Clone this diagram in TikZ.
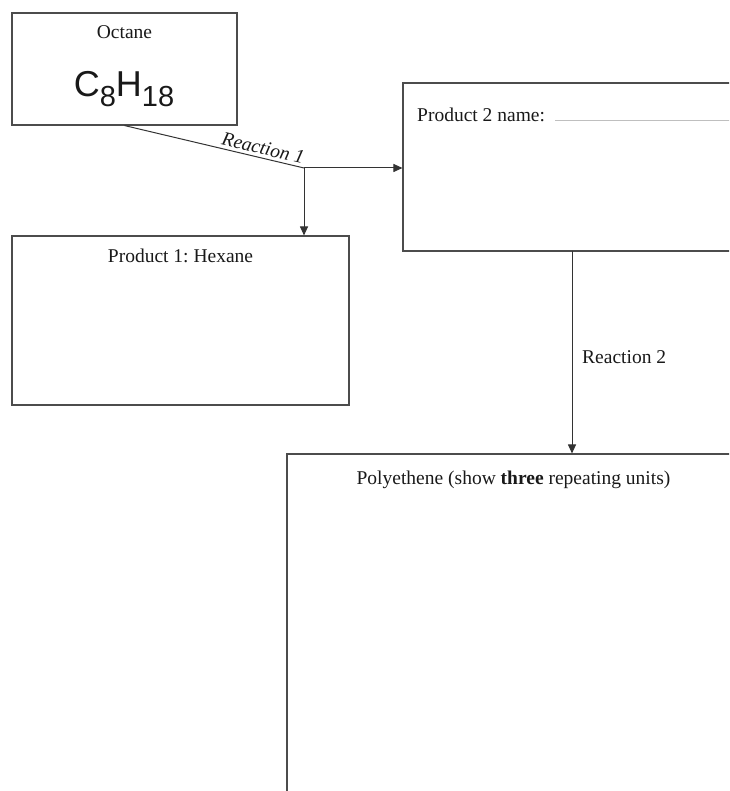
\documentclass[tikz,border=0pt]{standalone}
\usepackage{fontspec}
\setmainfont{Liberation Serif}
\newfontfamily\arialfont{Liberation Sans}
\usetikzlibrary{arrows.meta}
\frenchspacing
\begin{document}
\begin{tikzpicture}[x=1pt,y=-1pt,
  boxstyle/.style={draw=black!70, line width=1.1pt, rectangle, inner sep=0pt},
  conn/.style={draw=black!80, line width=1pt},
  arr/.style={conn, -{Triangle[length=9pt,width=8pt]}},
  lbl/.style={font=\fontsize{19.5}{22}\selectfont, inner sep=0pt, text=black!90}]
\useasboundingbox (0,0) rectangle (729,791);
\clip (0,0) rectangle (729,791);
% boxes
\node[boxstyle, minimum width=225pt, minimum height=112pt] (oct) at (124.5,69) {};
\node[boxstyle, minimum width=337pt, minimum height=169pt] (p1) at (180.5,320.5) {};
\node[boxstyle, minimum width=357pt, minimum height=168pt] (p2) at (581.5,167) {};
\node[boxstyle, minimum width=454pt, minimum height=376pt] (poly) at (514,642) {};
% texts
\node[lbl, anchor=base] (octlbl) at (124.5,39) {Octane};
\node[inner sep=0pt, anchor=base, font=\arialfont, text=black!90] (form) at (124,97)
  {\fontsize{36}{40}\selectfont C\raisebox{-10pt}{\fontsize{29}{30}\selectfont 8}H\raisebox{-10pt}{\fontsize{29}{30}\selectfont 18}};
\node[lbl, anchor=base] (p1lbl) at (180.5,262) {Product 1: Hexane};
\node[lbl, anchor=base west] (p2lbl) at (417,122) {Product 2 name:};
\draw[draw=black!25, line width=0.8pt] (555,120) -- (740,120);
\node[lbl, anchor=base] (polylbl) at (513.5,484) {Polyethene (show \textbf{three} repeating units)};
% connectors
\coordinate (j) at (304,168);
\draw[conn] (oct.south) -- (j)
  node[pos=0.76, sloped, above=3pt, lbl, font=\itshape\fontsize{19.5}{22}\selectfont] (r1) {Reaction 1};
\draw[arr] (j) -- (j -| p2.west);
\draw[arr] (j) -- (j |- p1.north);
\coordinate (r2s) at (572,251);
\draw[arr] (r2s) -- (r2s |- poly.north);
\node[lbl, anchor=base west] (r2) at (582,363) {Reaction 2};
\end{tikzpicture}
\end{document}
